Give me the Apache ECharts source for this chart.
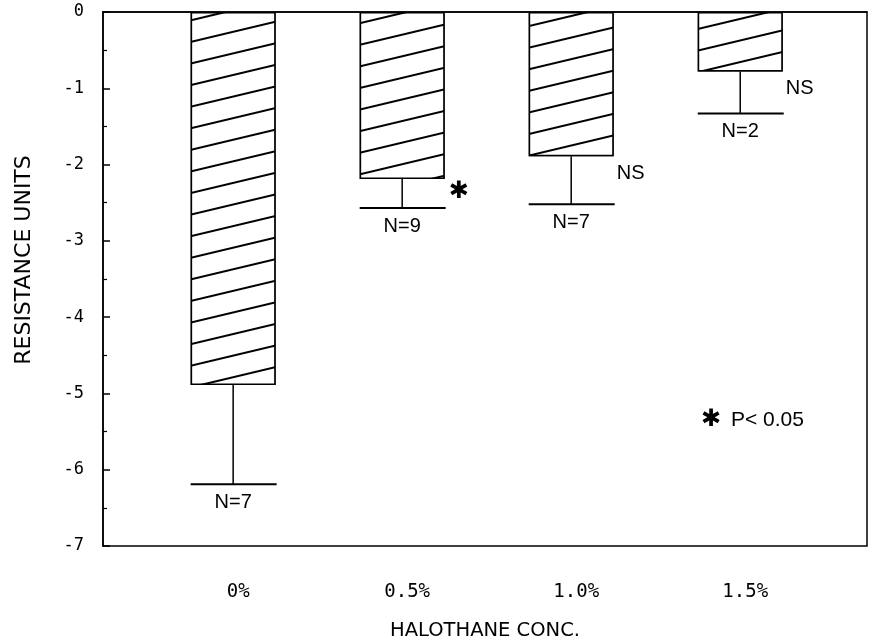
<!DOCTYPE html>
<html><head><meta charset="utf-8">
<script src="https://cdn.jsdelivr.net/npm/echarts@6/dist/echarts.min.js"></script>
<style>html,body{margin:0;padding:0;background:#fff}#c{width:874px;height:641px}</style>
</head><body><div id="c"></div>
<script>
// ---- data ----
const categories = ['0%', '0.5%', '1.0%', '1.5%'];
const positions = [1, 2, 3, 4];
const means = [-4.89, -2.19, -1.89, -0.78];
const errorLows = [-6.19, -2.57, -2.52, -1.33];
const nLabels = ['N=7', 'N=9', 'N=7', 'N=2'];
const sigLabels = ['', '\u2731', 'NS', 'NS'];
const legendMark = '\u2731';
const legendText = 'P< 0.05';
const xTitle = 'HALOTHANE CONC.';
const yTitle = 'RESISTANCE UNITS';

const BAR_W = 85;
const chart = echarts.init(document.getElementById('c'));

const option = {
  animation: false,
  backgroundColor: '#fff',
  grid: { left: 103, right: 7, top: 12, bottom: 95, show: true, borderColor: '#000', borderWidth: 1.5,
          containLabel: false, outerBoundsMode: 'none' },
  xAxis: {
    type: 'value', min: 0.23, max: 4.75,
    axisLine: { show: true, lineStyle: { color: '#000', width: 1.5 } },
    axisTick: { show: false },
    splitLine: { show: false },
    axisLabel: {
      customValues: positions,
      formatter: v => categories[positions.indexOf(v)],
      margin: 37, color: '#000', fontFamily: 'DejaVu Sans Mono', fontSize: 19,
      padding: [0, 0, 0, 10]
    },
    name: xTitle, nameLocation: 'middle', nameGap: 75,
    nameTextStyle: { color: '#000', fontFamily: 'DejaVu Sans', fontSize: 19.5 }
  },
  yAxis: {
    type: 'value', min: -7, max: 0, interval: 1,
    axisLine: { show: true, lineStyle: { color: '#000', width: 1.5 } },
    axisTick: { show: true, inside: true, length: 7, lineStyle: { color: '#000', width: 1.5 } },
    minorTick: { show: true, splitNumber: 2, length: 4, lineStyle: { color: '#000', width: 1.2 } },
    splitLine: { show: false },
    axisLabel: { color: '#000', fontFamily: 'DejaVu Sans Mono', fontSize: 17, margin: 19 }
  },
  graphic: [
    { type: 'text', x: 24, y: 260, rotation: Math.PI / 2,
      style: { text: yTitle, fontFamily: 'DejaVu Sans', fontSize: 22, fill: '#000', align: 'center', verticalAlign: 'middle' } },
    { type: 'text', x: 711, y: 420,
      style: { text: legendMark, fontFamily: 'DejaVu Sans', fontSize: 24, fill: '#000', align: 'center', verticalAlign: 'middle' } },
    { type: 'text', x: 731, y: 420,
      style: { text: legendText, fontFamily: 'Liberation Sans', fontSize: 21, fill: '#000', align: 'left', verticalAlign: 'middle' } }
  ],
  series: [
    {
      type: 'bar',
      data: positions.map((p, i) => [p, means[i]]),
      barWidth: BAR_W,
      itemStyle: {
        color: '#fff', borderColor: '#000', borderWidth: 1.5,
        decal: { symbol: 'rect', symbolSize: 1, dashArrayX: [1, 0], dashArrayY: [2, 19],
                 rotation: -0.234, color: '#000', backgroundColor: '#fff' }
      },
      z: 2
    },
    {
      type: 'custom',
      data: positions.map((p, i) => [p, means[i], errorLows[i], i]),
      encode: { x: 0, y: [1, 2] },
      z: 3,
      renderItem: function (params, api) {
        const x = api.value(0), m = api.value(1), lo = api.value(2), i = api.value(3);
        const top = api.coord([x, m]);
        const bot = api.coord([x, lo]);
        const half = BAR_W / 2;
        const ls = { stroke: '#000', lineWidth: 1.5 };
        const sig = sigLabels[i];
        const children = [
          { type: 'line', shape: { x1: top[0], y1: top[1], x2: bot[0], y2: bot[1] }, style: ls },
          { type: 'line', shape: { x1: bot[0] - half, y1: bot[1], x2: bot[0] + half + 1, y2: bot[1] }, style: { stroke: '#000', lineWidth: 2 } },
          { type: 'text', x: bot[0], y: bot[1] + 8,
            style: { text: nLabels[i], fontFamily: 'Liberation Sans', fontSize: 20, fill: '#000', align: 'center', verticalAlign: 'top' } }
        ];
        if (sig) {
          const isStar = sig === '\u2731';
          children.push({ type: 'text', x: top[0] + half + (isStar ? 4 : 3), y: top[1] + (isStar ? 13 : 17),
            style: { text: sig, fontFamily: isStar ? 'DejaVu Sans' : 'Liberation Sans', fontSize: isStar ? 24 : 20,
                     fill: '#000', align: 'left', verticalAlign: 'middle' } });
        }
        return { type: 'group', children: children };
      }
    }
  ]
};
chart.setOption(option);
</script></body></html>
